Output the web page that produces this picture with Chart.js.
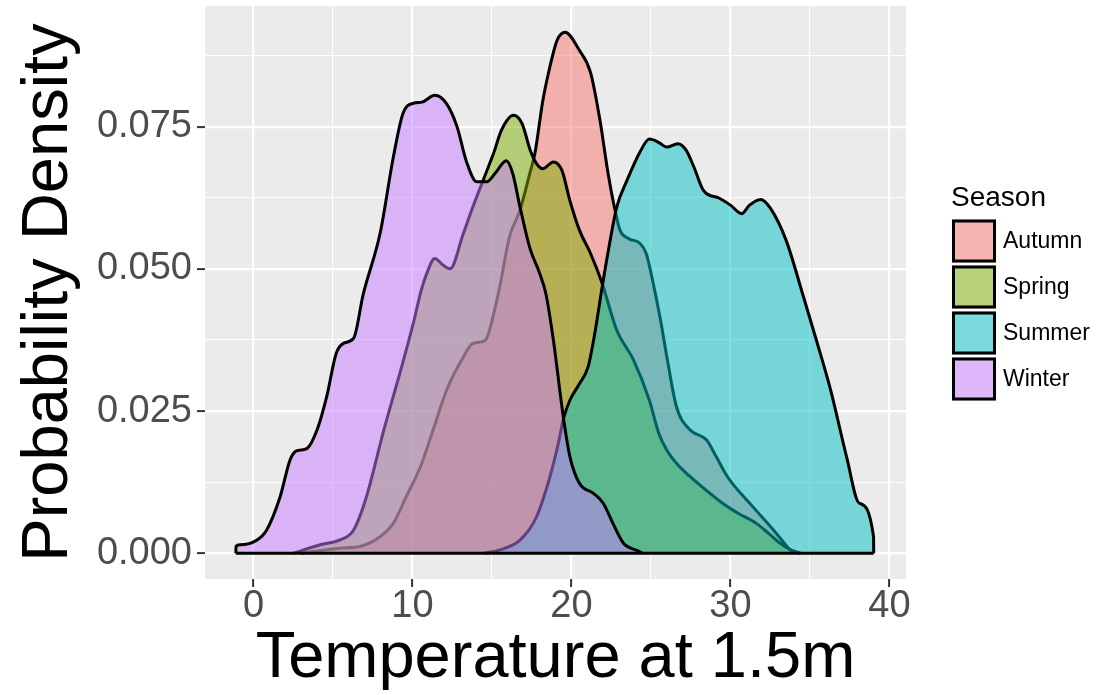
<!DOCTYPE html>
<html>
<head>
<meta charset="utf-8">
<title>Temperature density by season</title>
<script src="https://cdn.jsdelivr.net/npm/chart.js@4.4.1/dist/chart.umd.min.js"></script>
<style>
    html, body { margin: 0; padding: 0; background: #ffffff; }
    #wrap { width: 1119px; height: 695px; }
</style>
</head>
<body>
<div id="wrap"><canvas id="densityChart" width="1119" height="695"></canvas></div>
<script>
// season names (legend order)
var seasons = ['Autumn', 'Spring', 'Summer', 'Winter'];

// density curves: temperature (x) and density (y)
var autumnTemp = [3.0, 5.4, 6.7, 7.96, 8.8, 9.6, 10.5, 11.3, 12.15, 13.2, 13.8, 14.6, 15.1, 15.5, 16.1, 16.76, 17.4, 17.7, 18.2, 18.6, 19.1, 19.6, 20.5, 21.2, 21.8, 22.3, 22.74, 23.05, 23.6, 24.3, 24.7, 25.1, 25.6, 26.0, 26.6, 27.45, 28.5, 29.1, 29.8, 31.4, 32.7, 33.9];
var autumnDensity = [0, 0.0009, 0.0012, 0.0029, 0.0053, 0.0099, 0.0152, 0.0217, 0.0287, 0.0345, 0.0369, 0.0375, 0.0420, 0.0470, 0.0556, 0.0603, 0.0670, 0.0703, 0.0796, 0.0850, 0.0902, 0.0916, 0.0884, 0.0845, 0.0760, 0.0668, 0.0603, 0.0568, 0.0553, 0.0545, 0.0527, 0.0480, 0.0410, 0.0345, 0.0258, 0.0217, 0.0199, 0.0170, 0.0135, 0.0082, 0.0041, 0];

var springTemp = [2.5, 4.2, 5.4, 6.3, 7.1, 8.2, 9.2, 10.05, 10.5, 10.9, 11.4, 11.9, 12.36, 13.2, 13.8, 14.45, 15.1, 15.6, 16.35, 16.9, 17.4, 17.8, 18.2, 18.86, 19.4, 19.9, 20.5, 21.2, 21.9, 22.85, 23.9, 24.9, 25.5, 26.0, 26.7, 27.45, 28.5, 29.5, 30.5, 31.6, 32.4, 33.1, 33.8, 34.4];
var springDensity = [0, 0.0015, 0.0023, 0.0041, 0.0099, 0.0217, 0.0316, 0.0404, 0.0457, 0.0492, 0.0518, 0.0507, 0.0500, 0.0562, 0.0609, 0.0656, 0.0703, 0.0744, 0.0770, 0.0755, 0.0709, 0.0685, 0.0676, 0.0688, 0.0673, 0.0620, 0.0568, 0.0527, 0.0477, 0.0392, 0.0340, 0.0269, 0.0210, 0.0181, 0.0155, 0.0135, 0.0110, 0.0088, 0.0070, 0.0053, 0.0035, 0.0018, 0.0006, 0];

var summerTemp = [14.5, 15.5, 16.76, 17.8, 18.65, 19.17, 19.5, 19.9, 20.5, 21.05, 21.5, 21.9, 22.4, 22.85, 23.5, 24.3, 24.9, 25.5, 26.0, 26.7, 27.2, 27.7, 28.3, 29.3, 30.0, 30.7, 31.2, 31.9, 32.5, 33.5, 34.6, 35.4, 36.3, 37.3, 38.1, 39.0, 39.01];
var summerDensity = [0, 0.0006, 0.0023, 0.0064, 0.0135, 0.0193, 0.0237, 0.0269, 0.0298, 0.0328, 0.0392, 0.0463, 0.0545, 0.0609, 0.0656, 0.0705, 0.0728, 0.0722, 0.0714, 0.0720, 0.0709, 0.0679, 0.0638, 0.0624, 0.0612, 0.0597, 0.0612, 0.0622, 0.0607, 0.0550, 0.0450, 0.0375, 0.0287, 0.0170, 0.0088, 0.0029, 0];

var winterTemp = [-1.11, -1.1, -0.85, 0.2, 0.83, 1.67, 2.3, 2.7, 3.35, 4.0, 4.6, 5.2, 5.65, 6.3, 6.9, 7.96, 8.8, 9.4, 10.05, 10.6, 11.4, 12.15, 12.8, 13.4, 14.04, 14.67, 15.2, 15.9, 16.3, 16.76, 17.4, 18.0, 18.4, 18.86, 19.5, 19.9, 20.5, 21.4, 22.0, 22.6, 23.26, 24.1, 24.5];
var winterDensity = [0, 0.0012, 0.0015, 0.0023, 0.0041, 0.0099, 0.0164, 0.0180, 0.0184, 0.0217, 0.0275, 0.0351, 0.0369, 0.0378, 0.0455, 0.0562, 0.0697, 0.0773, 0.0791, 0.0793, 0.0805, 0.0790, 0.0750, 0.0688, 0.0653, 0.0653, 0.0668, 0.0690, 0.0668, 0.0609, 0.0535, 0.0492, 0.0455, 0.0375, 0.0237, 0.0170, 0.0123, 0.0105, 0.0088, 0.0053, 0.0018, 0.0005, 0];

// axis ticks
var xMajorTicks = [0, 10, 20, 30, 40];
var xMinorTicks = [5, 15, 25, 35];
var yMajorTicks = [0, 0.025, 0.05, 0.075];
var yMinorTicks = [0.0125, 0.0375, 0.0625, 0.0875];

// ggplot default hue palette
var seasonRgb = ['248,118,109', '124,174,0', '0,191,196', '199,124,255'];
var FONT = '"Liberation Sans", Arial, sans-serif';
var LINE = 3;

function toPoints(xs, ys) {
    return xs.map(function (x, i) { return { x: x, y: ys[i] }; });
}

function tickList(major, minor) {
    return major.concat(minor).sort(function (a, b) { return a - b; })
        .map(function (v) { return { value: v }; });
}

var seasonData = [
    toPoints(autumnTemp, autumnDensity),
    toPoints(springTemp, springDensity),
    toPoints(summerTemp, summerDensity),
    toPoints(winterTemp, winterDensity)
];

var allTemps = autumnTemp.concat(springTemp, summerTemp, winterTemp);
var lowTemp = Math.min.apply(null, allTemps);
var highTemp = Math.max.apply(null, allTemps);

var datasets = seasons.map(function (name, i) {
    return {
        label: name,
        data: seasonData[i],
        backgroundColor: 'rgba(' + seasonRgb[i] + ',0.5)',
        borderColor: '#000000',
        borderWidth: LINE,
        fill: 'origin',
        order: seasons.length - i,   // Winter drawn last, on top
        cubicInterpolationMode: 'monotone',
        pointRadius: 0
    };
});

// bottom edge shared by all polygons
datasets.push({
    label: 'baseline',
    data: [{ x: lowTemp, y: 0 }, { x: highTemp, y: 0 }],
    borderColor: '#000000',
    borderWidth: LINE,
    fill: false,
    order: 0,
    pointRadius: 0
});

var panelBackground = {
    id: 'panelBackground',
    beforeDraw: function (chart) {
        var ctx = chart.ctx, a = chart.chartArea;
        ctx.save();
        ctx.fillStyle = '#ffffff';
        ctx.fillRect(0, 0, chart.width, chart.height);
        ctx.fillStyle = '#EBEBEB';
        ctx.fillRect(a.left, a.top, a.right - a.left, a.bottom - a.top);
        ctx.restore();
    }
};

var seasonLegend = {
    id: 'seasonLegend',
    afterDraw: function (chart) {
        var ctx = chart.ctx, a = chart.chartArea;
        var left = a.right + 46;
        var mid = (a.top + a.bottom) / 2;
        var top = mid - 73;
        ctx.save();
        ctx.fillStyle = '#000000';
        ctx.font = '28px ' + FONT;
        ctx.textBaseline = 'alphabetic';
        ctx.textAlign = 'left';
        ctx.fillText('Season', left - 1, mid - 87);
        seasons.forEach(function (name, i) {
            var y = top + i * 46;
            ctx.fillStyle = '#F2F2F2';
            ctx.fillRect(left, y, 44, 43);
            ctx.fillStyle = 'rgba(' + seasonRgb[i] + ',0.5)';
            ctx.fillRect(left, y, 44, 43);
            ctx.lineWidth = LINE;
            ctx.strokeStyle = '#000000';
            ctx.strokeRect(left + 1.5, y + 1.5, 41, 40);
            ctx.fillStyle = '#000000';
            ctx.font = '23px ' + FONT;
            ctx.textBaseline = 'middle';
            ctx.fillText(name, left + 51, y + 22);
        });
        ctx.restore();
    }
};

function noEdgePadding(scale) {
    scale.paddingTop = 0;
    scale.paddingBottom = 0;
    scale.paddingLeft = 0;
    scale.paddingRight = 0;
}

var ctx = document.getElementById('densityChart').getContext('2d');

var densityChart = new Chart(ctx, {
    type: 'line',
    data: { datasets: datasets },
    plugins: [panelBackground, seasonLegend],
    options: {
        responsive: false,
        animation: false,
        layout: { padding: { top: 6, right: 213, left: 0, bottom: 0 } },
        plugins: {
            legend: { display: false },
            tooltip: { enabled: false }
        },
        scales: {
            x: {
                type: 'linear',
                min: -3.05,
                max: 41.04,
                afterBuildTicks: function (scale) { scale.ticks = tickList(xMajorTicks, xMinorTicks); },
                afterFit: function (scale) { scale.height = 116; noEdgePadding(scale); },
                border: { display: false },
                grid: {
                    color: '#ffffff',
                    lineWidth: function (c) { return xMajorTicks.indexOf(c.tick.value) >= 0 ? 2.2 : 1.1; },
                    tickColor: function (c) { return xMajorTicks.indexOf(c.tick.value) >= 0 ? '#333333' : 'rgba(0,0,0,0)'; },
                    tickLength: 8,
                    tickWidth: 2
                },
                ticks: {
                    autoSkip: false,
                    maxRotation: 0,
                    padding: 1,
                    color: '#4D4D4D',
                    font: { family: FONT, size: 38, lineHeight: 1 },
                    callback: function (v) { return xMajorTicks.indexOf(v) >= 0 ? String(v) : ''; }
                },
                title: {
                    display: true,
                    text: 'Temperature at 1.5m',
                    color: '#000000',
                    font: { family: FONT, size: 65, lineHeight: 1 },
                    padding: { top: 0, bottom: 3 }
                }
            },
            y: {
                type: 'linear',
                min: -0.00452,
                max: 0.0962,
                afterBuildTicks: function (scale) { scale.ticks = tickList(yMajorTicks, yMinorTicks); },
                afterFit: function (scale) { scale.width = 205; noEdgePadding(scale); },
                border: { display: false },
                grid: {
                    color: '#ffffff',
                    lineWidth: function (c) { return yMajorTicks.indexOf(c.tick.value) >= 0 ? 2.2 : 1.1; },
                    tickColor: function (c) { return yMajorTicks.indexOf(c.tick.value) >= 0 ? '#333333' : 'rgba(0,0,0,0)'; },
                    tickLength: 8,
                    tickWidth: 2
                },
                ticks: {
                    autoSkip: false,
                    padding: 5,
                    color: '#4D4D4D',
                    font: { family: FONT, size: 38, lineHeight: 1 },
                    callback: function (v) { return yMajorTicks.indexOf(v) >= 0 ? v.toFixed(3) : ''; }
                },
                title: {
                    display: true,
                    text: 'Probability Density',
                    color: '#000000',
                    font: { family: FONT, size: 65, lineHeight: 1 },
                    padding: { top: 17, bottom: 0 }
                }
            }
        }
    }
});
</script>
</body>
</html>
